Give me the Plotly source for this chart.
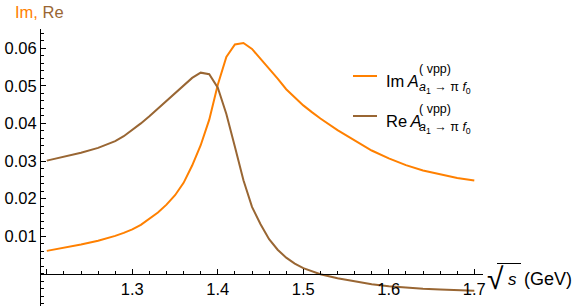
import plotly.graph_objects as go

# ---------------- data ----------------
s_vals = [1.20, 1.22, 1.24, 1.26, 1.27, 1.28, 1.29, 1.30, 1.31, 1.32, 1.33,
          1.34, 1.35, 1.36, 1.37, 1.38, 1.39, 1.40, 1.41, 1.42, 1.43, 1.44,
          1.45, 1.46, 1.47, 1.48, 1.49, 1.50, 1.51, 1.52, 1.54, 1.56, 1.58,
          1.60, 1.62, 1.64, 1.66, 1.68, 1.70]
im_vals = [0.0061, 0.0069, 0.0078, 0.0088, 0.0094, 0.0101, 0.0109, 0.0118,
           0.0130, 0.0146, 0.0163, 0.0184, 0.0209, 0.0242, 0.0288, 0.0342,
           0.0410, 0.0503, 0.0577, 0.0610, 0.0614, 0.0598, 0.0572, 0.0546,
           0.0519, 0.0491, 0.0469, 0.0448, 0.0430, 0.0413, 0.0382, 0.0354,
           0.0328, 0.0307, 0.0289, 0.0275, 0.0264, 0.0255, 0.0248]
re_vals = [0.0301, 0.0311, 0.0322, 0.0335, 0.0343, 0.0353, 0.0366, 0.0382,
           0.0400, 0.0419, 0.0439, 0.0459, 0.0479, 0.0500, 0.0521, 0.0535,
           0.0531, 0.0495, 0.0425, 0.0338, 0.0249, 0.0178, 0.0132, 0.0092,
           0.0064, 0.0043, 0.0027, 0.0015, 0.0006, -0.0001, -0.0012, -0.0021,
           -0.0028, -0.0033, -0.0037, -0.0040, -0.0042, -0.0044, -0.0045]
x_tick_vals = [1.2, 1.3, 1.4, 1.5, 1.6, 1.7]
x_tick_text = ["", "1.3", "1.4", "1.5", "1.6", "1.7"]
y_tick_vals = [0.01, 0.02, 0.03, 0.04, 0.05, 0.06]
y_tick_text = ["0.01", "0.02", "0.03", "0.04", "0.05", "0.06"]

ORANGE = "#FF8000"
BROWN = "#996633"
FONT = "Liberation Sans, Arial, sans-serif"

W, H = 576, 306
ML, MR, MT, MB = 41, 93, 29, 0
XR = [1.19322, 1.71018]
YR = [-0.00856, 0.06511]
pw, ph = W - ML - MR, H - MT - MB


def px(x):
    return (x - ML) / pw


def py(y):
    return (H - MB - y) / ph


fig = go.Figure()
fig.add_trace(go.Scatter(x=s_vals, y=im_vals, mode="lines",
                         line=dict(color=ORANGE, width=2), showlegend=False))
fig.add_trace(go.Scatter(x=s_vals, y=re_vals, mode="lines",
                         line=dict(color=BROWN, width=2), showlegend=False))

xpos = (0 - YR[0]) / (YR[1] - YR[0])

fig.update_layout(
    width=W, height=H,
    margin=dict(l=ML, r=MR, t=MT, b=MB, autoexpand=False),
    paper_bgcolor="white", plot_bgcolor="white",
    font=dict(family=FONT, size=16.5, color="black"),
    title=dict(text="<span style='color:%s'>Im,</span>"
                    "<span style='color:%s'> Re</span>" % (ORANGE, BROWN),
               xref="container", yref="container", x=15 / W,
               y=1 - 12.5 / H, xanchor="left", yanchor="middle",
               font=dict(size=16.5, family=FONT), automargin=False, pad=dict(l=0, r=0, t=0, b=0)),
    xaxis=dict(range=XR, showgrid=False, zeroline=False, showline=True,
               linecolor="black", linewidth=1, anchor="free", position=xpos,
               tickmode="array", tickvals=x_tick_vals, ticktext=x_tick_text,
               ticks="inside", ticklen=5, tickcolor="black", tickwidth=1,
               minor=dict(dtick=0.02, tick0=1.2, ticks="inside", ticklen=3,
                          tickcolor="black", tickwidth=1),
               tickfont=dict(size=16.5, family=FONT), automargin=False),
    yaxis=dict(range=YR, showgrid=False, zeroline=False, showline=True,
               linecolor="black", linewidth=1,
               tickmode="array", tickvals=y_tick_vals, ticktext=y_tick_text,
               ticks="inside", ticklen=5, tickcolor="black", tickwidth=1,
               minor=dict(dtick=0.002, tick0=0, ticks="inside", ticklen=3,
                          tickcolor="black", tickwidth=1),
               tickfont=dict(size=16.5, family=FONT), automargin=False),
)

ann = []
shapes = []


def add_text(text, x, y, size, color="black", anchor="left"):
    ann.append(dict(text=text, x=px(x), y=py(y), xref="paper", yref="paper",
                    xanchor=anchor, yanchor="middle", showarrow=False,
                    font=dict(size=size, color=color, family=FONT)))


# axis label (x): sqrt(s) (GeV)
add_text("√", 485, 278, 30)
add_text("<i>s</i>", 506, 279, 17)
add_text("(GeV)", 522, 279, 18)
shapes.append(dict(type="line", xref="paper", yref="paper",
                   x0=px(497), x1=px(521), y0=py(263.5), y1=py(263.5),
                   line=dict(color="black", width=1)))

# legend
for i, (name, col) in enumerate([("Im", ORANGE), ("Re", BROWN)]):
    dy = 40 * i
    shapes.append(dict(type="line", xref="paper", yref="paper",
                       x0=px(353), x1=px(377), y0=py(76 + dy), y1=py(76 + dy),
                       line=dict(color=col, width=2)))
    add_text(name + "\u2009<i>A</i>", 384, 81 + dy, 16.5)
    add_text("( vpp)", 417, 69 + dy, 12.5)
    add_text("<i>a</i><sub>1</sub> → π <i>f</i><sub>0</sub>", 417, 88 + dy, 12.5)

fig.update_layout(annotations=ann, shapes=shapes)
fig.write_html("out.html", config={"displayModeBar": False},
               post_script="document.body.style.margin='0';")
